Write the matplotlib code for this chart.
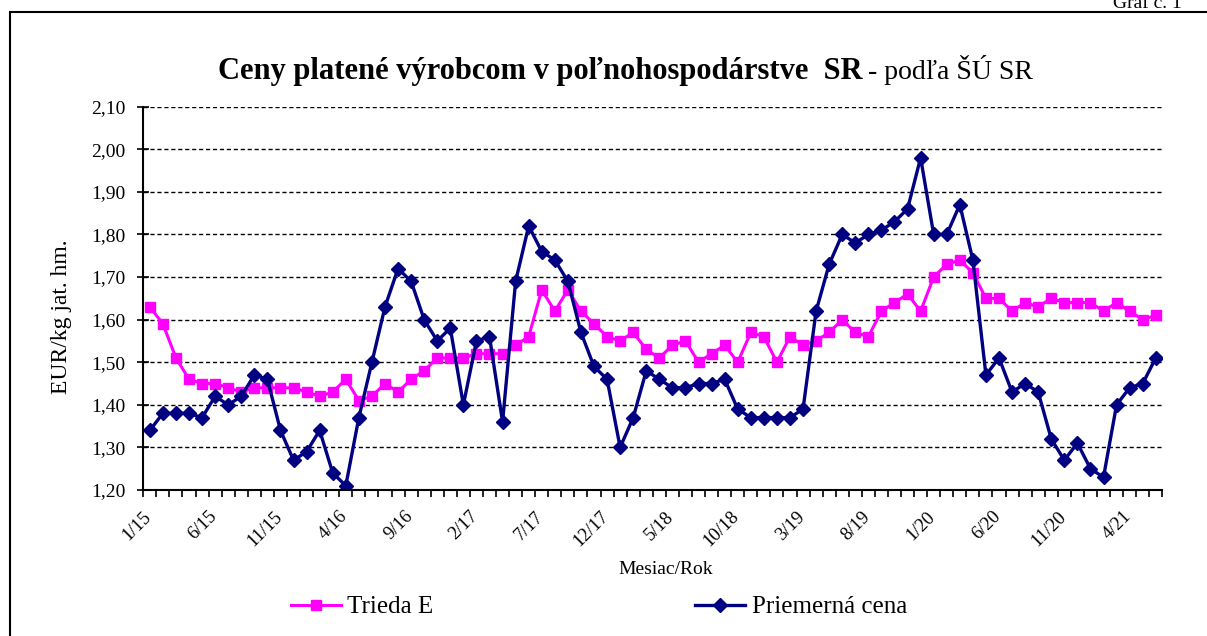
import matplotlib
matplotlib.use("Agg")
import matplotlib.pyplot as plt
import matplotlib.transforms as mtransforms
from matplotlib.patches import Rectangle
import numpy as np

# mesiace 1/15 .. 6/21
mesiace = ["%d/%02d" % (m, r) for r in range(15, 22) for m in range(1, 13)][:78]

trieda_e = [1.63, 1.59, 1.51, 1.46, 1.45, 1.45, 1.44, 1.43, 1.44, 1.44,
            1.44, 1.44, 1.43, 1.42, 1.43, 1.46, 1.41, 1.42, 1.45, 1.43,
            1.46, 1.48, 1.51, 1.51, 1.51, 1.52, 1.52, 1.52, 1.54, 1.56,
            1.67, 1.62, 1.67, 1.62, 1.59, 1.56, 1.55, 1.57, 1.53, 1.51,
            1.54, 1.55, 1.50, 1.52, 1.54, 1.50, 1.57, 1.56, 1.50, 1.56,
            1.54, 1.55, 1.57, 1.60, 1.57, 1.56, 1.62, 1.64, 1.66, 1.62,
            1.70, 1.73, 1.74, 1.71, 1.65, 1.65, 1.62, 1.64, 1.63, 1.65,
            1.64, 1.64, 1.64, 1.62, 1.64, 1.62, 1.60, 1.61]

priemerna = [1.34, 1.38, 1.38, 1.38, 1.37, 1.42, 1.40, 1.42, 1.47, 1.46,
             1.34, 1.27, 1.29, 1.34, 1.24, 1.21, 1.37, 1.50, 1.63, 1.72,
             1.69, 1.60, 1.55, 1.58, 1.40, 1.55, 1.56, 1.36, 1.69, 1.82,
             1.76, 1.74, 1.69, 1.57, 1.49, 1.46, 1.30, 1.37, 1.48, 1.46,
             1.44, 1.44, 1.45, 1.45, 1.46, 1.39, 1.37, 1.37, 1.37, 1.37,
             1.39, 1.62, 1.73, 1.80, 1.78, 1.80, 1.81, 1.83, 1.86, 1.98,
             1.80, 1.80, 1.87, 1.74, 1.47, 1.51, 1.43, 1.45, 1.43, 1.32,
             1.27, 1.31, 1.25, 1.23, 1.40, 1.44, 1.45, 1.51]

plt.rcParams['font.family'] = ['Liberation Serif', 'DejaVu Serif']

W, H = 1207, 636
fig = plt.figure(figsize=(W / 100, H / 100), dpi=100)
ax = fig.add_axes([143.3 / W, 1 - 490 / H, (1162.3 - 143.3) / W, (490 - 106.7) / H])

x = np.arange(len(mesiace))
ax.plot(x, trieda_e, color="#FF00FF", lw=2.2, marker="s", ms=7.5, label="Trieda E")
ax.plot(x, priemerna, color="#000080", lw=2.4, marker="D", ms=7, label="Priemerná cena")

ax.set_xlim(-0.5, len(mesiace) - 0.5)
ax.set_ylim(1.2, 2.1)
yt = np.round(np.arange(1.2, 2.101, 0.1), 2)
ax.set_yticks(yt)
ax.set_yticklabels([("%.2f" % v).replace(".", ",") for v in yt], fontsize=14)
ax.yaxis.grid(True, color="black", ls=(0, (3, 2)), lw=1)
ax.set_axisbelow(True)

ax.set_xticks(x[::5])
ax.set_xticklabels(mesiace[::5], rotation=45, ha="right", va="top",
                   rotation_mode="anchor", fontsize=13.3)
ax.tick_params(axis="x", which="major", length=0, pad=13)
posun = mtransforms.ScaledTranslation(-0.07, 0, fig.dpi_scale_trans)
for lbl in ax.get_xticklabels():
    lbl.set_transform(lbl.get_transform() + posun)
ax.set_xticks(np.arange(-0.5, len(mesiace)), minor=True)
ax.tick_params(axis="x", which="minor", length=5, width=1.2, direction="out")
ax.tick_params(axis="y", length=8, width=1.2, direction="inout", pad=9)

for s in ["top", "right"]:
    ax.spines[s].set_visible(False)
for s in ["left", "bottom"]:
    ax.spines[s].set_linewidth(1.5)

ax.set_ylabel("EUR/kg jat. hm.", fontsize=17)
ax.yaxis.set_label_coords(-0.070, 0.452)
ax.set_xlabel("Mesiac/Rok", fontsize=14)
ax.xaxis.set_label_coords(0.513, -0.185)

fig.legend(loc="center left", bbox_to_anchor=(268 / W, 1 - 607 / H), ncol=2,
           frameon=False, fontsize=18, handlelength=2.0, handletextpad=0.25,
           columnspacing=10.5)

# ramik grafu
fig.patches.append(Rectangle((10 / W, -0.1), 1.2, 1.1 - 12 / H, transform=fig.transFigure,
                             fill=False, edgecolor="black", lw=1.5))
fig.text(1113 / W, 1 - 8 / H, "Graf č. 1", fontsize=14, va="baseline")

t1 = fig.text(218 / W, 1 - 79 / H, "Ceny platené výrobcom v poľnohospodárstve  SR",
              fontsize=22, fontweight="bold", va="baseline")
fig.canvas.draw()
bb = t1.get_window_extent()
fig.text(bb.x1 / W + 5 / W, 1 - 79 / H, "- podľa ŠÚ SR", fontsize=20, va="baseline")

fig.savefig("out.png", dpi=100)
